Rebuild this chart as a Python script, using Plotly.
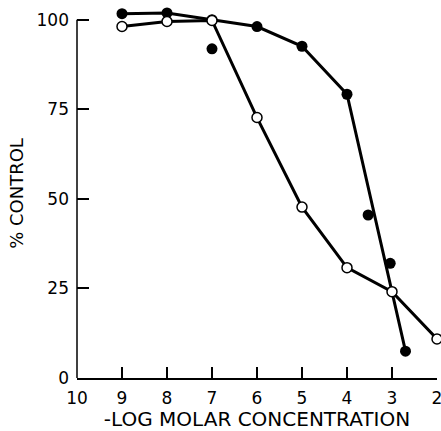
import plotly.graph_objects as go

x_ticks = [10, 9, 8, 7, 6, 5, 4, 3, 2]
y_ticks = [0, 25, 50, 75, 100]

filled_line_x = [9, 8, 7, 6, 5, 4, 2.7]
filled_line_y = [101.7, 101.9, 100, 98.1, 92.6, 79.2, 7.5]

filled_extra_x = [7, 3.53, 3.04]
filled_extra_y = [91.9, 45.5, 32.0]

open_x = [9, 8, 7, 6, 5, 4, 3, 2]
open_y = [98.1, 99.5, 99.8, 72.7, 47.7, 30.8, 24.1, 10.9]

fig = go.Figure()
fig.add_trace(go.Scatter(x=filled_line_x, y=filled_line_y, mode="lines+markers",
                         line=dict(color="black", width=3),
                         marker=dict(color="black", size=11),
                         cliponaxis=False, showlegend=False))
fig.add_trace(go.Scatter(x=open_x, y=open_y, mode="lines+markers",
                         line=dict(color="black", width=3),
                         marker=dict(color="white", size=10, line=dict(color="black", width=1.5)),
                         cliponaxis=False, showlegend=False))
fig.add_trace(go.Scatter(x=filled_extra_x, y=filled_extra_y, mode="markers",
                         marker=dict(color="black", size=11),
                         cliponaxis=False, showlegend=False))

font = "DejaVu Sans, sans-serif"
fig.update_layout(
    width=441, height=431,
    margin=dict(l=77, r=4, t=9, b=53, autoexpand=False),
    plot_bgcolor="white", paper_bgcolor="white",
    font=dict(family=font, color="black", size=17),
    shapes=[dict(type="line", xref="paper", yref="y", x0=0, x1=0,
                 y0=y_ticks[0], y1=y_ticks[-1],
                 line=dict(color="black", width=1.5))],
)
fig.update_xaxes(range=[10, 2], tickvals=x_ticks, ticktext=[str(v) for v in x_ticks],
                 showline=True, linecolor="black", linewidth=1.5, automargin=False,
                 ticks="inside", ticklen=11, tickwidth=1.5, tickcolor="black",
                 showgrid=False, zeroline=False,
                 ticklabelstandoff=4, ticklabeloverflow="allow",
                 title=dict(text="-LOG MOLAR CONCENTRATION", font=dict(size=20), standoff=4))
fig.update_yaxes(range=[0, 103], tickvals=y_ticks, ticktext=[str(v) for v in y_ticks],
                 showline=False, automargin=False,
                 ticks="inside", ticklen=12, tickwidth=1.5, tickcolor="black",
                 showgrid=False, zeroline=False,
                 ticklabelstandoff=7,
                 title=dict(text="% CONTROL", font=dict(size=18), standoff=8))

fig.write_html("out.html")
